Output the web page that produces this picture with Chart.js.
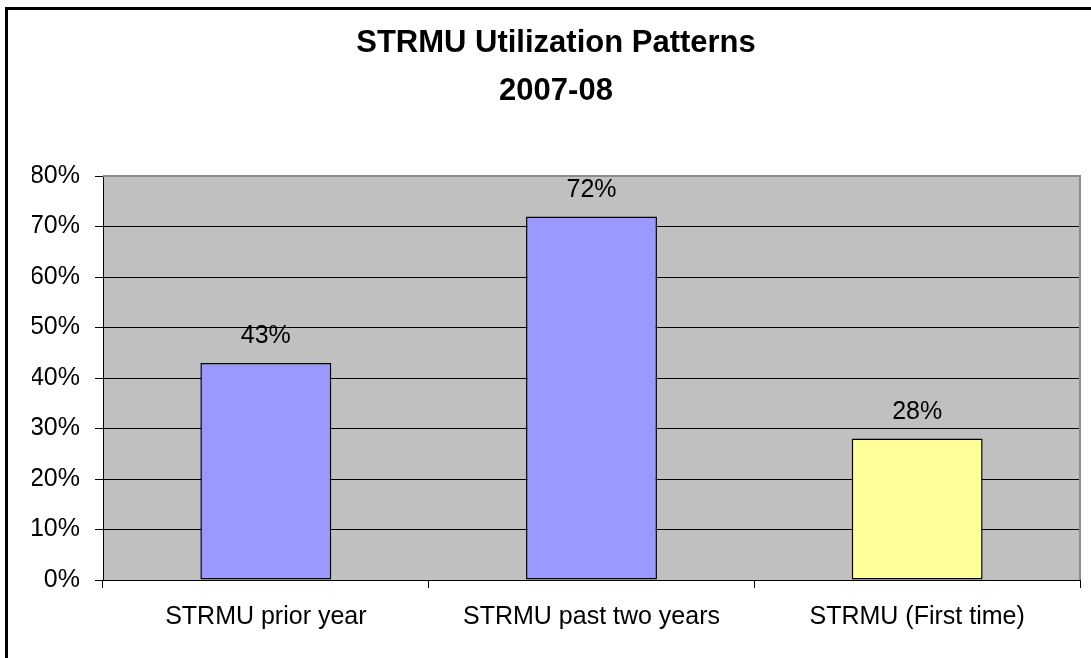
<!DOCTYPE html>
<html>
<head>
<meta charset="utf-8">
<script src="https://cdn.jsdelivr.net/npm/chart.js@4"></script>
<style>
  html, body { margin: 0; padding: 0; background: #fff; }
  #myChart { display: block; }
</style>
</head>
<body>
<canvas id="myChart" width="1091" height="658"></canvas>
<script>
// chart data
var categories = ["STRMU prior year", "STRMU past two years", "STRMU (First time)"];
var utilization = [43, 72, 28];
var barColors = ["#9999FF", "#9999FF", "#FFFF99"];
var titleLines = ["STRMU Utilization Patterns", "2007-08"];
var yMin = 0, yMax = 80, yStep = 10;

var FONT = "'Liberation Sans', Arial, sans-serif";

// gray plot area + frame, outer chart border, value labels
var decorations = {
  id: "decorations",
  beforeDraw: function (chart) {
    var a = chart.chartArea, c = chart.ctx;
    c.save();
    c.fillStyle = "#C0C0C0";
    c.fillRect(a.left, a.top, a.right - a.left, a.bottom - a.top);
    c.restore();
  },
  afterDatasetsDraw: function (chart) {
    var c = chart.ctx;
    var meta = chart.getDatasetMeta(0);
    c.save();
    c.font = "25px " + FONT;
    c.fillStyle = "#000";
    c.textAlign = "center";
    c.textBaseline = "alphabetic";
    meta.data.forEach(function (bar, i) {
      c.fillText(utilization[i] + "%", bar.x, bar.y - 19.5);
    });
    c.restore();
  },
  afterDraw: function (chart) {
    var a = chart.chartArea, c = chart.ctx;
    c.save();
    // plot frame top / right
    c.strokeStyle = "#8c8c8c";
    c.lineWidth = 2;
    c.beginPath();
    c.moveTo(a.left, a.top);
    c.lineTo(a.right, a.top);
    c.lineTo(a.right, a.bottom);
    c.stroke();
    // outer chart border
    c.strokeStyle = "#000";
    c.lineWidth = 3;
    c.strokeRect(6.5, 8.5, 1300, 1000);
    c.restore();
  }
};

var ctx = document.getElementById("myChart");
var myChart = new Chart(ctx, {
  type: "bar",
  data: {
    labels: categories,
    datasets: [
      {
        data: utilization,
        backgroundColor: barColors,
        borderColor: "#000",
        borderWidth: 1.5,
        borderSkipped: false,
        barPercentage: 0.402,
        categoryPercentage: 1,
      },
    ],
  },
  plugins: [decorations],
  options: {
    responsive: false,
    animation: false,
    layout: {
      padding: { left: 32, right: 11, top: 0, bottom: 0 },
    },
    plugins: {
      legend: { display: false },
      tooltip: { enabled: false },
      title: {
        display: true,
        text: titleLines,
        color: "#000",
        font: { family: FONT, size: 31, weight: "bold", lineHeight: 1.53 },
        padding: { top: 20, bottom: 61.2 },
      },
    },
    scales: {
      x: {
        afterFit: function (scale) { scale.height = 78; },
        grid: {
          offset: true,
          drawOnChartArea: false,
          color: "#000",
          tickLength: 8,
        },
        border: { color: "#000", width: 1 },
        ticks: {
          color: "#000",
          padding: 14,
          font: { family: FONT, size: 25 },
        },
      },
      y: {
        min: yMin,
        max: yMax,
        afterFit: function (scale) { scale.width = 71; },
        grid: {
          color: "#000",
          lineWidth: 1,
          tickLength: 8,
          tickColor: "#000",
        },
        border: { color: "#000", width: 1 },
        ticks: {
          stepSize: yStep,
          color: "#000",
          padding: 15,
          font: { family: FONT, size: 25 },
          callback: function (v) { return v + "%"; },
        },
      },
    },
  },
});
</script>
</body>
</html>
